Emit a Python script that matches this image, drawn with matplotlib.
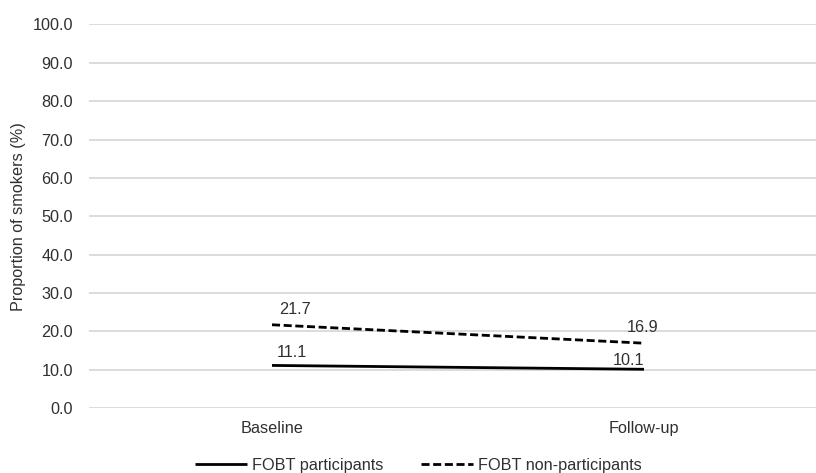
import matplotlib
matplotlib.use("Agg")
import matplotlib.pyplot as plt

plt.rcParams['font.family'] = ['Liberation Sans', 'DejaVu Sans']

categories = ["Baseline", "Follow-up"]
participants = [11.1, 10.1]
non_participants = [21.7, 16.9]
yticks = [0, 10, 20, 30, 40, 50, 60, 70, 80, 90, 100]
series_names = ["FOBT participants", "FOBT non-participants"]

text_color = "#303030"
grid_color = "#d9d9d9"
fs = 11.7

fig = plt.figure(figsize=(8.16, 4.73), dpi=100)
ax = fig.add_axes([89/816, 1 - 408/473, 1 - 89/816, (408 - 24.5)/473])

x = list(range(len(categories)))
l1, = ax.plot(x, participants, color="black", lw=2.0, solid_capstyle="butt")
l2, = ax.plot(x, non_participants, color="black", lw=2.0, linestyle=(0, (2.9, 1.3)),
              dash_capstyle="butt")

ax.set_xlim(-(272 - 89)/372, (816 - 272)/372)
ax.set_ylim(0, 100)
ax.set_yticks(yticks)
ax.set_yticklabels([f"{v:.1f}" for v in yticks])
ax.set_xticks(x)
ax.set_xticklabels(categories)
ax.yaxis.grid(True, color=grid_color, lw=1.3)
ax.set_axisbelow(True)
for s in ax.spines.values():
    s.set_visible(False)
ax.tick_params(axis="both", length=0, labelsize=fs, colors=text_color)
ax.tick_params(axis="y", pad=11.5)
ax.tick_params(axis="x", pad=9.5)
ax.set_ylabel("Proportion of smokers (%)", fontsize=fs, color=text_color, labelpad=5)

# data labels (offsets in pixels from each point)
part_offsets = [(20, 13), (-15, 9)]
non_offsets = [(23, 15), (-1, 16)]
for i, v in enumerate(participants):
    ax.annotate(f"{v:.1f}", (i, v), xytext=part_offsets[i], textcoords="offset pixels",
                ha="center", va="center", fontsize=fs, color=text_color)
for i, v in enumerate(non_participants):
    ax.annotate(f"{v:.1f}", (i, v), xytext=non_offsets[i], textcoords="offset pixels",
                ha="center", va="center", fontsize=fs, color=text_color)

fig.legend([l1, l2], series_names, loc="center", bbox_to_anchor=(0.513, 0.016),
           ncol=2, frameon=False, fontsize=fs, handlelength=3.2, handletextpad=0.3,
           columnspacing=2.3, labelcolor=text_color, borderpad=0, borderaxespad=0)

fig.savefig("out.png", dpi=100)
